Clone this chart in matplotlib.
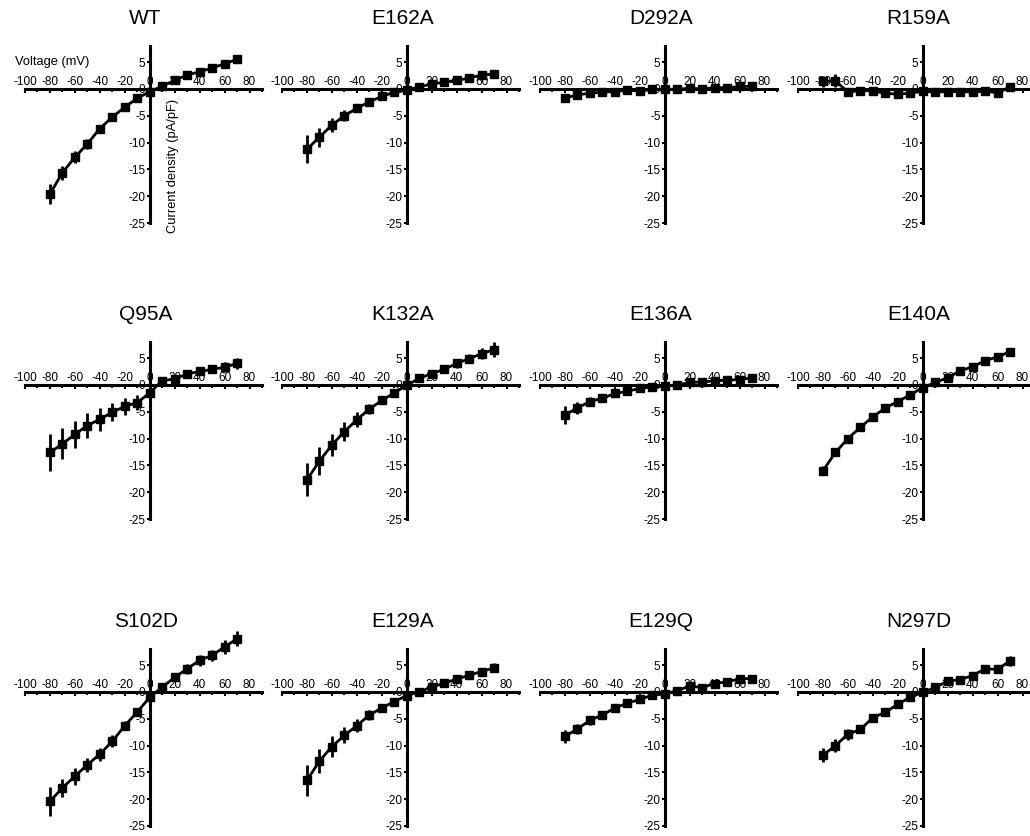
import matplotlib
matplotlib.use("Agg")
import matplotlib.pyplot as plt
from matplotlib.ticker import MultipleLocator

plt.rcParams["font.family"] = ["Liberation Sans", "DejaVu Sans"]
plt.rcParams["axes.unicode_minus"] = False

voltage = [-80, -70, -60, -50, -40, -30, -20, -10, 0, 10, 20, 30, 40, 50, 60, 70]

titles = ["WT", "E162A", "D292A", "R159A",
          "Q95A", "K132A", "E136A", "E140A",
          "S102D", "E129A", "E129Q", "N297D"]

wt = [-19.6, -15.6, -12.75, -10.25, -7.4, -5.25, -3.4, -1.75, -0.5, 0.5, 1.6, 2.6, 3.2, 3.9, 4.7, 5.5]
wt_err = [1.8, 1.3, 1.1, 0.9, 0.7, 0.4, 0.3, 0.2, 0.2, 0.2, 0.2, 0.2, 0.2, 0.2, 0.2, 0.3]

e162a = [-11.25, -9.0, -6.75, -5.0, -3.6, -2.4, -1.4, -0.6, -0.25, 0.4, 0.9, 1.25, 1.6, 2.0, 2.6, 2.75]
e162a_err = [2.6, 1.8, 1.3, 1.0, 0.7, 0.4, 0.3, 0.2, 0.2, 0.2, 0.2, 0.2, 0.3, 0.3, 0.3, 0.4]

d292a = [-1.7, -1.1, -0.8, -0.6, -0.5, -0.25, -0.4, -0.1, -0.1, -0.05, 0.1, 0.0, 0.25, 0.2, 0.45, 0.5]
d292a_err = [0.2, 0.2, 0.2, 0.2, 0.2, 0.1, 0.1, 0.1, 0.1, 0.1, 0.1, 0.1, 0.1, 0.1, 0.2, 0.2]

r159a = [1.4, 1.5, -0.6, -0.3, -0.4, -0.8, -1.0, -0.8, -0.45, -0.6, -0.5, -0.5, -0.6, -0.4, -0.75, 0.4]
r159a_err = [1.0, 1.2, 0.4, 0.2, 0.2, 0.3, 0.3, 0.3, 0.3, 0.3, 0.3, 0.3, 0.3, 0.2, 0.4, 0.2]

q95a = [-12.6, -11.0, -9.2, -7.6, -6.4, -5.1, -4.0, -3.3, -1.5, 0.8, 1.1, 2.05, 2.5, 2.9, 3.3, 4.0]
q95a_err = [3.4, 2.9, 2.5, 2.3, 2.1, 1.7, 1.6, 1.4, 0.9, 0.3, 0.5, 0.3, 0.6, 0.7, 0.9, 1.1]

k132a = [-17.7, -14.2, -11.2, -8.7, -6.5, -4.5, -2.9, -1.5, -0.05, 1.2, 2.1, 2.9, 4.0, 4.9, 5.8, 6.6]
k132a_err = [3.1, 2.6, 2.1, 1.8, 1.4, 1.0, 0.5, 0.3, 0.3, 0.3, 0.4, 0.5, 0.8, 0.9, 1.0, 1.4]

e136a = [-5.6, -4.3, -3.1, -2.5, -1.6, -1.2, -0.65, -0.4, -0.25, 0.0, 0.45, 0.55, 0.75, 0.9, 1.0, 1.3]
e136a_err = [1.6, 1.1, 0.8, 0.5, 0.3, 0.2, 0.2, 0.2, 0.2, 0.1, 0.2, 0.2, 0.3, 0.2, 0.2, 0.2]

e140a = [-16.0, -12.6, -10.0, -7.9, -5.95, -4.3, -3.1, -1.85, -0.5, 0.45, 1.35, 2.6, 3.4, 4.5, 5.25, 6.2]
e140a_err = [0.8, 0.7, 0.6, 0.4, 0.3, 0.2, 0.2, 0.2, 0.3, 0.2, 0.3, 0.2, 0.2, 0.2, 0.2, 0.2]

s102d = [-20.4, -17.9, -15.7, -13.6, -11.6, -9.2, -6.3, -3.75, -1.0, 0.9, 2.7, 4.3, 5.9, 6.8, 8.4, 9.9]
s102d_err = [2.7, 1.7, 1.6, 1.3, 1.2, 1.1, 0.8, 0.6, 0.6, 0.4, 0.6, 0.9, 1.0, 1.1, 1.3, 1.4]

e129a = [-16.5, -12.9, -10.2, -8.1, -6.3, -4.3, -3.0, -1.8, -0.7, 0.0, 0.9, 1.6, 2.4, 3.1, 3.8, 4.5]
e129a_err = [2.9, 2.3, 2.0, 1.5, 1.2, 0.9, 0.7, 0.3, 0.5, 0.2, 0.2, 0.2, 0.3, 0.4, 0.6, 0.8]

e129q = [-8.3, -6.9, -5.3, -4.3, -3.0, -2.1, -1.4, -0.6, -0.4, 0.25, 1.1, 0.8, 1.55, 1.9, 2.45, 2.5]
e129q_err = [1.2, 1.0, 0.9, 0.8, 0.5, 0.3, 0.3, 0.3, 0.3, 0.2, 0.4, 0.2, 0.3, 0.3, 0.4, 0.4]

n297d = [-11.8, -10.0, -7.9, -7.0, -4.8, -3.8, -2.3, -1.0, -0.1, 0.85, 2.0, 2.3, 3.05, 4.3, 4.2, 5.8]
n297d_err = [1.3, 1.2, 1.0, 0.7, 0.6, 0.4, 0.3, 0.3, 0.2, 0.2, 0.3, 0.3, 0.3, 0.3, 0.3, 0.9]

series = [wt, e162a, d292a, r159a, q95a, k132a, e136a, e140a, s102d, e129a, e129q, n297d]
errors = [wt_err, e162a_err, d292a_err, r159a_err, q95a_err, k132a_err, e136a_err, e140a_err,
          s102d_err, e129a_err, e129q_err, n297d_err]

W, H = 1030, 836
fig = plt.figure(figsize=(W / 100, H / 100), dpi=100)

col_left = [25, 282, 540, 798]
row_top = [46, 342, 649]
ax_w, ax_h = 237, 177

for i, (name, y, e) in enumerate(zip(titles, series, errors)):
    r, c = divmod(i, 4)
    ax = fig.add_axes([col_left[c] / W, 1 - (row_top[r] + ax_h) / H, ax_w / W, ax_h / H])
    ax.set_xlim(-100, 90)
    ax.set_ylim(-25, 8)

    ax.errorbar(voltage, y, yerr=e, color="black", lw=2, marker="s", ms=5.5,
                elinewidth=2, capsize=0, clip_on=False, zorder=3)

    for s in ["bottom", "right"]:
        ax.spines[s].set_visible(False)
    ax.spines["top"].set_position(("data", 0))
    ax.spines["left"].set_position(("data", 0))
    ax.spines["top"].set_linewidth(2.2)
    ax.spines["left"].set_linewidth(2.2)
    ax.patch.set_visible(False)

    ax.xaxis.set_ticks_position("top")
    ax.xaxis.set_minor_locator(MultipleLocator(10))
    ax.set_xticks(range(-100, 81, 20))
    ax.set_yticks(range(-25, 6, 5))
    ax.tick_params(axis="x", which="major", direction="in", length=3, width=1.5,
                   labelsize=8.5, pad=1)
    ax.tick_params(axis="x", which="minor", direction="in", length=2, width=1.5)
    ax.tick_params(axis="y", direction="out", length=2, width=1.5, labelsize=8.5, pad=1)

    ax.annotate(name, xy=(0, 1), xycoords=("data", "axes fraction"),
                xytext=(-3, 13), textcoords="offset points",
                ha="center", va="bottom", fontsize=15)

    if i == 0:
        ax.text(-108, 5, "Voltage (mV)", ha="left", va="center", fontsize=9.3, clip_on=False)
        ax.text(14, -1.8, "Current density (pA/pF)", rotation=90, ha="left", va="top",
                fontsize=9.3, clip_on=False)

fig.savefig("out.png", dpi=100)
